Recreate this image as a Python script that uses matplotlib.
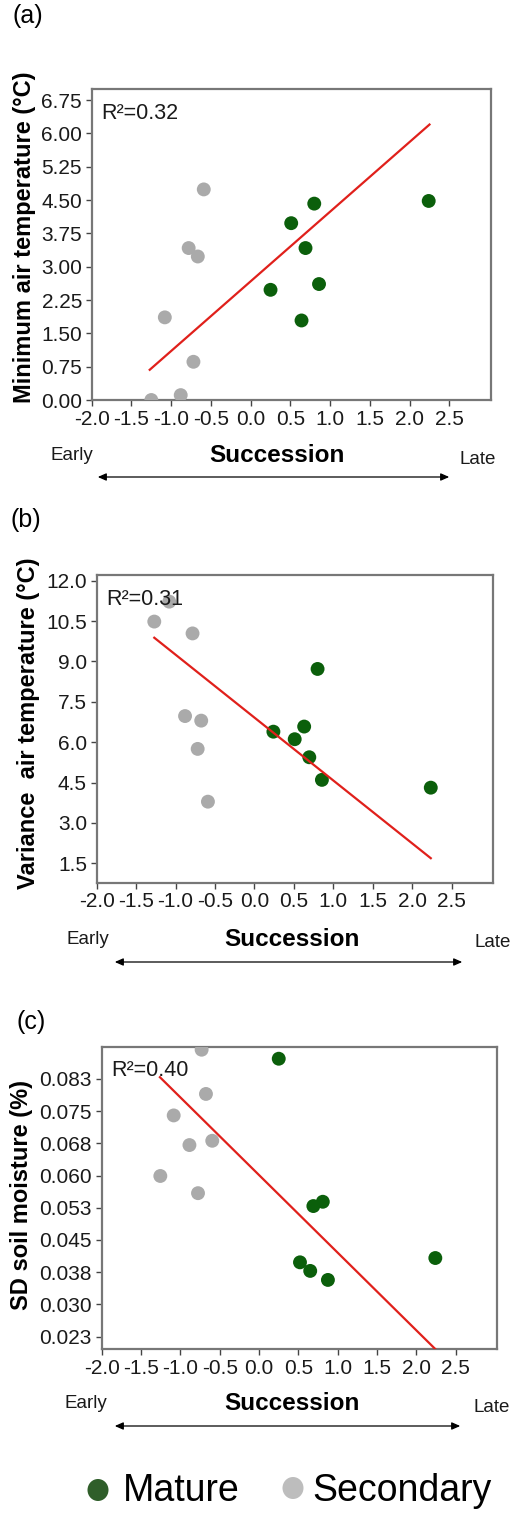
import matplotlib
matplotlib.use("Agg")
import matplotlib.pyplot as plt
import numpy as np

plt.rcParams['font.family'] = ['Liberation Sans', 'DejaVu Sans']

W, H = 511, 1520
DPI = 100

# ---- data -------------------------------------------------------------
# (a) minimum air temperature
a_sec_x = [-0.59, -0.78, -0.665, -1.08, -0.72, -0.88, -1.25]
a_sec_y = [4.74, 3.42, 3.23, 1.86, 0.86, 0.11, 0.0]
a_mat_x = [0.51, 0.80, 0.69, 0.25, 0.86, 0.64, 2.24]
a_mat_y = [3.98, 4.42, 3.42, 2.48, 2.61, 1.79, 4.48]
a_fit_x = [-1.27, 2.25]
a_fit_y = [0.68, 6.20]
a_r2 = "R²=0.32"
a_yticks = [0.00, 0.75, 1.50, 2.25, 3.00, 3.75, 4.50, 5.25, 6.00, 6.75]
a_yticklabels = ["0.00", "0.75", "1.50", "2.25", "3.00", "3.75", "4.50", "5.25", "6.00", "6.75"]

# (b) variance of air temperature
b_sec_x = [-1.08, -1.27, -0.785, -0.88, -0.675, -0.72, -0.59]
b_sec_y = [11.22, 10.48, 10.04, 6.97, 6.80, 5.75, 3.79]
b_mat_x = [0.80, 0.63, 0.24, 0.51, 0.695, 0.855, 2.235]
b_mat_y = [8.72, 6.58, 6.39, 6.11, 5.44, 4.60, 4.31]
b_fit_x = [-1.27, 2.235]
b_fit_y = [9.88, 1.69]
b_r2 = "R²=0.31"
b_yticks = [1.5, 3.0, 4.5, 6.0, 7.5, 9.0, 10.5, 12.0]
b_yticklabels = ["1.5", "3.0", "4.5", "6.0", "7.5", "9.0", "10.5", "12.0"]

# (c) SD of soil moisture
c_sec_x = [-0.73, -0.675, -1.085, -0.885, -0.595, -1.255, -0.776]
c_sec_y = [0.0893, 0.0790, 0.0740, 0.0671, 0.0681, 0.0599, 0.0559]
c_mat_x = [0.25, 0.69, 0.81, 0.52, 0.65, 0.875, 2.24]
c_mat_y = [0.0872, 0.0529, 0.0539, 0.0398, 0.0378, 0.0357, 0.0408]
c_fit_x = [-1.26, 2.24]
c_fit_y = [0.0829, 0.0196]
c_r2 = "R²=0.40"
c_yticks = [0.0225, 0.030, 0.0375, 0.045, 0.0525, 0.060, 0.0675, 0.075, 0.0825]
c_yticklabels = ["0.023", "0.030", "0.038", "0.045", "0.053", "0.060", "0.068", "0.075", "0.083"]

x_ticks = [-2.0, -1.5, -1.0, -0.5, 0.0, 0.5, 1.0, 1.5, 2.0, 2.5]
x_ticklabels = ["-2.0", "-1.5", "-1.0", "-0.5", "0.0", "0.5", "1.0", "1.5", "2.0", "2.5"]

groups = ["Mature", "Secondary"]

# ---- style ------------------------------------------------------------
GREEN = "#0b5f0b"
GREY = "#aaaaaa"
LEG_GREEN = "#2f5e2a"
LEG_GREY = "#bdbdbd"
FRAME = "#777777"


def fx(x):
    return x / W


def fy(y):
    return 1 - y / H


fig = plt.figure(figsize=(W / DPI, H / DPI), dpi=DPI)


def panel(box, sx, sy, mx, my, fitx, fity, r2, yticks, yticklabels, ylim,
          ylabel, ylab_xy, letter, letter_xy, early_xy, succ_xy, late_xy, arrow):
    left, top, right, bottom = box
    ax = fig.add_axes([fx(left), fy(bottom), (right - left) / W, (bottom - top) / H])
    ax.scatter(sx, sy, s=100, color=GREY, edgecolors="none", zorder=3)
    ax.scatter(mx, my, s=100, color=GREEN, edgecolors="none", zorder=3)
    ax.plot(fitx, fity, color="#e0201b", lw=1.6, zorder=4)
    ax.set_xlim(-2.0, 3.02)
    ax.set_ylim(*ylim)
    ax.set_xticks(x_ticks)
    ax.set_xticklabels(x_ticklabels)
    ax.set_yticks(yticks)
    ax.set_yticklabels(yticklabels)
    ax.tick_params(axis="both", direction="out", length=4.5, width=1.0,
                   color="#444444", labelsize=15, labelcolor="#1a1a1a", pad=2.5)
    for s in ax.spines.values():
        s.set_color(FRAME)
        s.set_linewidth(1.6)
    ax.text(0.025, 0.955, r2, transform=ax.transAxes, fontsize=15.5,
            ha="left", va="top", color="#1a1a1a")
    # y label
    fig.text(fx(ylab_xy[0]), fy(ylab_xy[1]), ylabel, rotation=90,
             fontsize=17, fontweight="bold", ha="center", va="center")
    # panel letter
    fig.text(fx(letter_xy[0]), fy(letter_xy[1]), letter, fontsize=18,
             ha="left", va="center")
    # succession axis annotation
    fig.text(fx(early_xy[0]), fy(early_xy[1]), "Early", fontsize=13.5,
             ha="left", va="center", color="#1a1a1a")
    fig.text(fx(succ_xy[0]), fy(succ_xy[1]), "Succession", fontsize=17.5,
             fontweight="bold", ha="center", va="center")
    fig.text(fx(late_xy[0]), fy(late_xy[1]), "Late", fontsize=13.5,
             ha="left", va="center", color="#1a1a1a")
    x0, x1, ya = arrow
    fig.add_artist(matplotlib.patches.FancyArrowPatch(
        (fx(x0), fy(ya)), (fx(x1), fy(ya)), transform=fig.transFigure,
        arrowstyle="<|-|>,head_length=5,head_width=2.2", mutation_scale=1,
        color="black", lw=0.9))
    return ax


panel((91.7, 89, 490.7, 400), a_sec_x, a_sec_y, a_mat_x, a_mat_y,
      a_fit_x, a_fit_y, a_r2, a_yticks, a_yticklabels, (0.0, 7.0),
      "Minimum air temperature (°C)", (25, 237), "(a)", (12, 16),
      (51, 456), (277, 455), (459, 459), (95, 452, 477))

panel((96.7, 575, 492.7, 882.7), b_sec_x, b_sec_y, b_mat_x, b_mat_y,
      b_fit_x, b_fit_y, b_r2, b_yticks, b_yticklabels, (0.78, 12.21),
      "Variance  air temperature (°C)", (29, 723), "(b)", (11, 520),
      (67, 940), (292, 940), (474, 943), (112, 465, 962))

panel((101.7, 1046.7, 496.7, 1349.3), c_sec_x, c_sec_y, c_mat_x, c_mat_y,
      c_fit_x, c_fit_y, c_r2, c_yticks, c_yticklabels, (0.01955, 0.0900),
      "SD soil moisture (%)", (22, 1195), "(c)", (17, 1022),
      (65, 1403), (292, 1404), (473, 1407), (112, 463, 1426))

# legend
leg_y = 1490
fig.add_artist(matplotlib.patches.Ellipse((fx(98), fy(leg_y)), 21 / W, 22 / H,
                                          transform=fig.transFigure,
                                          color=LEG_GREEN, lw=0))
fig.text(fx(123), fy(leg_y + 1), groups[0], fontsize=27, ha="left", va="center")
fig.add_artist(matplotlib.patches.Ellipse((fx(293), fy(leg_y - 2)), 21 / W, 22 / H,
                                          transform=fig.transFigure,
                                          color=LEG_GREY, lw=0))
fig.text(fx(312), fy(leg_y + 1), groups[1], fontsize=27, ha="left", va="center")

fig.savefig("out.png", dpi=DPI)
